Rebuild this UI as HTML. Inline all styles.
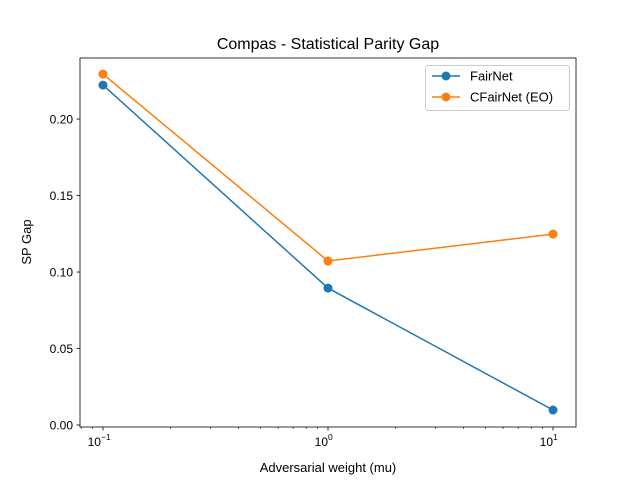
<!DOCTYPE html>
<html><head><meta charset="utf-8"><style>
body{margin:0;background:#fff;}
svg{display:block;font-family:"Liberation Sans","DejaVu Sans",sans-serif;}
</style></head><body>
<svg id="chart" width="640" height="480"></svg>
<script>
const xValues=[0.1,1,10];
const fairnet=[0.2222,0.0895,0.0098];
const cfairnet=[0.2294,0.1072,0.1248];
const seriesNames=["FairNet","CFairNet (EO)"];
const yTicks=[0,0.05,0.10,0.15,0.20];
const yTickLabels=["0.00","0.05","0.10","0.15","0.20"];
const xTicks=[0.1,1,10];
const xTickLabels=["10","10","10"];
const xTickExp=["−1","0","1"];

const L=80,R=576,T=58,B=427;
const lmin=-1.1022,lmax=1.1022,ymin=-0.0013,ymax=0.2399;
const xs=v=>L+(Math.log10(v)-lmin)/(lmax-lmin)*(R-L);
const ys=v=>B-(v-ymin)/(ymax-ymin)*(B-T);
const svg=document.getElementById('chart');
const NS="http://www.w3.org/2000/svg";
function mk(t,a,p){const e=document.createElementNS(NS,t);for(const k in a)e.setAttribute(k,a[k]);(p||svg).appendChild(e);return e;}

const title=mk('text',{x:328,y:49,'text-anchor':'middle','font-size':16});title.textContent="Compas - Statistical Parity Gap";



for(let d=-2;d<=1;d++)for(let m=2;m<=9;m++){const v=m*Math.pow(10,d);const lv=Math.log10(v);if(lv<lmin||lv>lmax)continue;
const t=mk('line',{x1:xs(v),x2:xs(v),y1:B,y2:B+2,stroke:'#000','stroke-width':0.6});

}
xTicks.forEach((v,i)=>{const x=xs(v);
const t=mk('line',{x1:x,x2:x,y1:B,y2:B+3.5,stroke:'#000','stroke-width':0.8});


const lb=mk('text',{x:x+(i==0?-2:0),y:B+19,'text-anchor':'end','font-size':12});lb.textContent=xTickLabels[i];


const ex=mk('text',{x:x+(i==0?-2:0),y:B+13,'text-anchor':'start','font-size':8.5});ex.textContent=xTickExp[i];

});
yTicks.forEach((v,i)=>{const y=ys(v);
const t=mk('line',{x1:L-3.5,x2:L,y1:y,y2:y,stroke:'#000','stroke-width':0.8});


const lb=mk('text',{x:L-7,y:y+4.5,'text-anchor':'end','font-size':12});lb.textContent=yTickLabels[i];

});

const xl=mk('text',{x:328,y:472,'text-anchor':'middle','font-size':13});xl.textContent="Adversarial weight (mu)";


const yl=mk('text',{x:31,y:242,'text-anchor':'middle','font-size':13,transform:'rotate(-90 31 242)'});yl.textContent="SP Gap";



const colors=['#1f77b4','#ff7f0e'];
[fairnet,cfairnet].forEach((s,si)=>{
const g=mk('g',{});


mk('polyline',{points:s.map((v,i)=>xs(xValues[i])+','+ys(v)).join(' '),fill:'none',stroke:colors[si],'stroke-width':1.5},g);
s.forEach((v,i)=>{const c=mk('circle',{cx:xs(xValues[i]),cy:ys(v),r:4.5,fill:colors[si]},g);

});
});

const fr=mk('rect',{x:L,y:T,width:R-L,height:B-T,fill:'none',stroke:'#000','stroke-width':0.8});



const lg=mk('g',{});


mk('rect',{x:425.5,y:65.5,width:144,height:45,rx:3,fill:'#fff',stroke:'#ccc'},lg);
seriesNames.forEach((n,i)=>{const y=76+i*21;
const e=mk('g',{},lg);


mk('line',{x1:432,x2:460,y1:y,y2:y,stroke:colors[i],'stroke-width':1.5},e);
mk('circle',{cx:446,cy:y,r:4.5,fill:colors[i]},e);
const t=mk('text',{x:470,y:y+4.5,'font-size':13},e);t.textContent=n;});
</script>
</body></html>
